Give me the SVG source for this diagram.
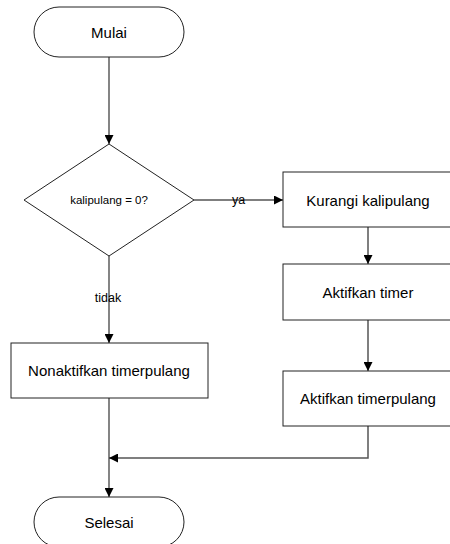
<svg xmlns="http://www.w3.org/2000/svg" width="450" height="544" viewBox="0 0 450 544">
  <style>
    .shape { fill: #ffffff; stroke: #222222; stroke-width: 1; }
    .txt { font-family: "Liberation Sans", Arial, sans-serif; font-size: 15px; fill: #000000; text-anchor: middle; dominant-baseline: central; }
    .small { font-size: 11.5px; }
    .lbl { font-family: "Liberation Sans", Arial, sans-serif; font-size: 12.5px; fill: #000000; text-anchor: middle; dominant-baseline: central; }
    .conn { fill: none; stroke: #333333; stroke-width: 1.2; }
    .conn2 { fill: none; stroke: #555555; stroke-width: 1.5; }
  </style>
  <defs>
    <marker id="arrow" viewBox="0 0 10 10" refX="10" refY="5" markerWidth="9" markerHeight="9" markerUnits="userSpaceOnUse" orient="auto">
      <path d="M0,0 L10,5 L0,10 Z" fill="#000000"/>
    </marker>
  </defs>
  <rect width="450" height="544" fill="#ffffff"/>

  <g id="connectors">
    <line class="conn" x1="109" y1="57" x2="109" y2="144" marker-end="url(#arrow)"/>
    <line class="conn2" x1="194" y1="200" x2="283" y2="200" marker-end="url(#arrow)"/>
    <line class="conn" x1="109" y1="256" x2="109" y2="343" marker-end="url(#arrow)"/>
    <line class="conn2" x1="368" y1="227" x2="368" y2="264" marker-end="url(#arrow)"/>
    <line class="conn2" x1="368" y1="320" x2="368" y2="371" marker-end="url(#arrow)"/>
    <polyline class="conn2" points="368,426 368,458 109,458" marker-end="url(#arrow)"/>
    <line class="conn" x1="109" y1="398" x2="109" y2="497" marker-end="url(#arrow)"/>
    <text class="lbl" x="238.5" y="200">ya</text>
    <text class="lbl" x="108" y="298">tidak</text>
  </g>

  <g id="mulai">
    <rect class="shape" x="34" y="7" width="150" height="50" rx="25" ry="25"/>
    <text class="txt" x="109" y="32">Mulai</text>
  </g>

  <g id="cek-kalipulang">
    <polygon class="shape" points="109,144 194,200 109,256 24,200"/>
    <text class="txt small" x="109" y="200">kalipulang = 0?</text>
  </g>

  <g id="kurangi-kalipulang">
    <rect class="shape" x="283" y="172" width="172" height="55"/>
    <text class="txt" x="368" y="200">Kurangi kalipulang</text>
  </g>

  <g id="aktifkan-timer">
    <rect class="shape" x="283" y="264" width="172" height="56"/>
    <text class="txt" x="368" y="292">Aktifkan timer</text>
  </g>

  <g id="aktifkan-timerpulang">
    <rect class="shape" x="283" y="371" width="172" height="55"/>
    <text class="txt" x="368" y="398">Aktifkan timerpulang</text>
  </g>

  <g id="nonaktifkan-timerpulang">
    <rect class="shape" x="11" y="343" width="197" height="55"/>
    <text class="txt" x="109" y="370">Nonaktifkan timerpulang</text>
  </g>

  <g id="selesai">
    <rect class="shape" x="34" y="497" width="150" height="50" rx="25" ry="25"/>
    <text class="txt" x="109" y="522">Selesai</text>
  </g>
</svg>
